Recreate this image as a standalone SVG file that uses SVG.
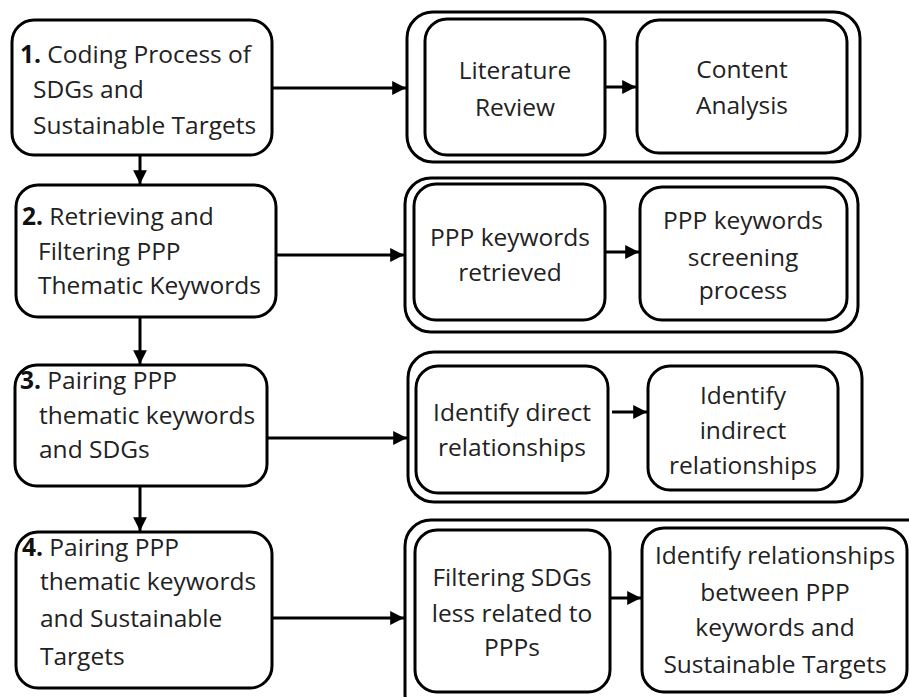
<svg xmlns="http://www.w3.org/2000/svg" width="909" height="697" viewBox="0 0 909 697">
<defs>
<marker id="ah" viewBox="0 0 10 10" refX="10" refY="5" markerWidth="4.6" markerHeight="4.6" markerUnits="strokeWidth" orient="auto">
<path d="M0,0 L10,5 L0,10 z" fill="#000"/>
</marker>
<style>
.box{fill:#fff;stroke:#000;stroke-width:3}
.cont{fill:#fff;stroke:#000;stroke-width:3}
.t{font-family:"Open Sans","Liberation Sans",sans-serif;font-size:24.5px;fill:#222}
.c{text-anchor:middle}
.b{font-weight:bold;fill:#111}
.ln{stroke:#000;stroke-width:3;fill:none;marker-end:url(#ah)}
</style>
</defs>
<rect width="909" height="697" fill="#fff"/>

<g id="step1">
<rect class="box" x="12" y="20" width="260" height="135" rx="22"/>
<text class="t" x="20" y="63"><tspan class="b">1.</tspan> Coding Process of</text>
<text class="t" x="33" y="98">SDGs and</text>
<text class="t" x="33" y="134">Sustainable Targets</text>
</g>
<g id="step2">
<rect class="box" x="16" y="185" width="260" height="132" rx="22"/>
<text class="t" x="22" y="225"><tspan class="b">2.</tspan> Retrieving and</text>
<text class="t" x="38" y="260">Filtering PPP</text>
<text class="t" x="38" y="294">Thematic Keywords</text>
</g>
<g id="step3">
<rect class="box" x="15" y="365" width="252" height="121" rx="22"/>
<text class="t" x="20" y="389"><tspan class="b">3.</tspan> Pairing PPP</text>
<text class="t" x="39" y="424">thematic keywords</text>
<text class="t" x="39" y="458">and SDGs</text>
</g>
<g id="step4">
<rect class="box" x="16" y="532" width="256" height="156" rx="22"/>
<text class="t" x="22" y="556"><tspan class="b">4.</tspan> Pairing PPP</text>
<text class="t" x="40" y="590">thematic keywords</text>
<text class="t" x="40" y="627">and Sustainable</text>
<text class="t" x="40" y="665">Targets</text>
</g>

<g id="group1">
<rect class="cont" x="407" y="12" width="453" height="150" rx="26"/>
</g>
<g id="lit">
<rect class="box" x="425" y="19" width="180" height="136" rx="22"/>
<text class="t c" x="515" y="79">Literature</text>
<text class="t c" x="515" y="116">Review</text>
</g>
<g id="content">
<rect class="box" x="637" y="20" width="210" height="133" rx="22"/>
<text class="t c" x="742" y="78">Content</text>
<text class="t c" x="742" y="114">Analysis</text>
</g>

<g id="group2">
<rect class="cont" x="405" y="178" width="453" height="154" rx="26"/>
</g>
<g id="retrieved">
<rect class="box" x="414" y="184" width="191" height="136" rx="22"/>
<text class="t c" x="510" y="246">PPP keywords</text>
<text class="t c" x="510" y="281">retrieved</text>
</g>
<g id="screening">
<rect class="box" x="640" y="187" width="207" height="133" rx="22"/>
<text class="t c" x="743" y="229">PPP keywords</text>
<text class="t c" x="743" y="266">screening</text>
<text class="t c" x="743" y="299">process</text>
</g>

<g id="group3">
<rect class="cont" x="408" y="352" width="454" height="150" rx="26"/>
</g>
<g id="direct">
<rect class="box" x="416" y="366" width="192" height="127" rx="22"/>
<text class="t c" x="512" y="421">Identify direct</text>
<text class="t c" x="512" y="456">relationships</text>
</g>
<g id="indirect">
<rect class="box" x="648" y="366" width="190" height="124" rx="22"/>
<text class="t c" x="743" y="404">Identify</text>
<text class="t c" x="743" y="439">indirect</text>
<text class="t c" x="743" y="474">relationships</text>
</g>

<g id="group4">
<rect class="cont" x="405" y="520" width="530" height="200" rx="26"/>
</g>
<g id="filtering">
<rect class="box" x="415" y="530" width="195" height="162" rx="22"/>
<text class="t c" x="512" y="586">Filtering SDGs</text>
<text class="t c" x="512" y="622">less related to</text>
<text class="t c" x="512" y="656">PPPs</text>
</g>
<g id="identifyrel">
<rect class="box" x="642" y="528" width="265" height="164" rx="22"/>
<text class="t c" x="775" y="564">Identify relationships</text>
<text class="t c" x="775" y="601">between PPP</text>
<text class="t c" x="775" y="636">keywords and</text>
<text class="t c" x="775" y="673">Sustainable Targets</text>
</g>

<g id="connectors">
<line class="ln" x1="140" y1="155" x2="140" y2="184"/>
<line class="ln" x1="140" y1="317" x2="140" y2="364"/>
<line class="ln" x1="140" y1="486" x2="140" y2="531"/>
<line class="ln" x1="272" y1="88" x2="406" y2="88"/>
<line class="ln" x1="276" y1="255" x2="404" y2="255"/>
<line class="ln" x1="267" y1="438" x2="407" y2="438"/>
<line class="ln" x1="272" y1="618" x2="404" y2="618"/>
<line class="ln" x1="605" y1="87" x2="636" y2="87"/>
<line class="ln" x1="605" y1="252" x2="639" y2="252"/>
<line class="ln" x1="612" y1="412" x2="647" y2="412"/>
<line class="ln" x1="611" y1="598" x2="641" y2="598"/>
</g>
</svg>
